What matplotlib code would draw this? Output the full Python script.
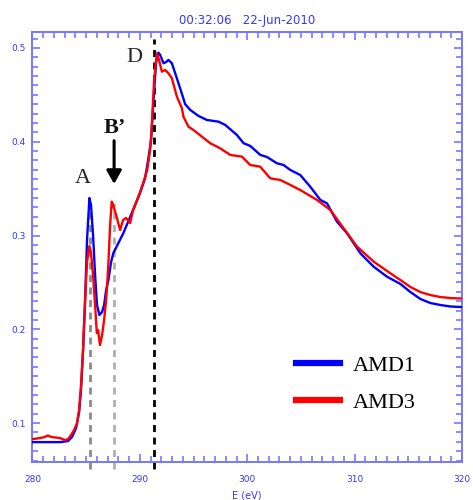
import numpy as np
import matplotlib
matplotlib.use("Agg")
import matplotlib.pyplot as plt
from matplotlib.ticker import MultipleLocator

# energie (eV) et intensites
e_amd1 = [280.0, 282.56, 283.31, 283.68, 284.06, 284.34, 284.52, 284.71, 284.90, 285.08,
          285.30, 285.45, 285.64, 285.83, 286.01, 286.23, 286.48, 286.67, 286.86, 287.07,
          287.32, 287.53, 288.00, 288.47, 289.09, 289.56, 290.02, 290.49, 290.77, 291.05,
          291.33, 291.52, 291.73, 291.89, 292.20, 292.45, 292.66, 292.98, 293.29, 293.75,
          294.22, 294.69, 295.46, 296.24, 297.32, 297.95, 299.04, 299.66, 300.28, 301.21,
          301.84, 302.77, 303.38, 304.01, 304.94, 305.87, 306.81, 307.43, 308.36, 309.30,
          310.54, 311.78, 313.03, 314.27, 315.20, 316.13, 317.06, 317.99, 318.93, 320.0]
i_amd1 = [0.0797, 0.0797, 0.0808, 0.0851, 0.0947, 0.1117, 0.1352, 0.1779, 0.2312, 0.2952,
          0.340, 0.3325, 0.3005, 0.2579, 0.2259, 0.2152, 0.2184, 0.2259, 0.2419, 0.2525,
          0.2717, 0.2813, 0.292, 0.3027, 0.3197, 0.3325, 0.3453, 0.3613, 0.3805, 0.4019,
          0.4552, 0.4851, 0.495, 0.4925, 0.4837, 0.485, 0.4872, 0.4837, 0.473, 0.457,
          0.440, 0.4339, 0.4275, 0.4232, 0.4214, 0.4179, 0.4072, 0.3984, 0.3955, 0.386,
          0.3837, 0.377, 0.3752, 0.3699, 0.3645, 0.352, 0.3379, 0.3343, 0.3147, 0.3023,
          0.281, 0.2667, 0.256, 0.2483, 0.2397, 0.2323, 0.228, 0.2259, 0.2243, 0.2237]

e_amd3 = [280.0, 280.66, 281.13, 281.41, 281.78, 282.56, 283.03, 283.31, 283.59, 283.87,
          284.15, 284.34, 284.52, 284.71, 284.90, 285.08, 285.30, 285.45, 285.64, 285.83,
          285.99, 286.11, 286.29, 286.48, 286.67, 286.86, 287.04, 287.23, 287.38, 287.51,
          287.79, 288.16, 288.44, 288.72, 289.09, 289.37, 289.74, 290.02, 290.40, 290.68,
          290.96, 291.14, 291.33, 291.58, 291.79, 292.05, 292.35, 292.66, 292.98, 293.45,
          293.91, 294.06, 294.53, 294.99, 295.78, 296.55, 297.48, 298.42, 299.51, 300.28,
          301.21, 302.14, 303.08, 303.70, 304.94, 306.50, 307.74, 308.98, 310.23, 311.78,
          313.33, 314.27, 315.20, 316.13, 317.06, 317.99, 318.93, 320.0]
i_amd3 = [0.0829, 0.084, 0.0851, 0.0867, 0.0851, 0.084, 0.0819, 0.0829, 0.0872, 0.0925,
          0.100, 0.1139, 0.1405, 0.1779, 0.2312, 0.2717, 0.2888, 0.2813, 0.2579, 0.2259,
          0.196, 0.1992, 0.1832, 0.1939, 0.2099, 0.2312, 0.2632, 0.3112, 0.3361, 0.3325,
          0.3219, 0.3059, 0.3165, 0.3187, 0.3133, 0.3272, 0.3379, 0.3464, 0.3592, 0.3699,
          0.3912, 0.4232, 0.4659, 0.4943, 0.4872, 0.4747, 0.4765, 0.473, 0.4677, 0.448,
          0.436, 0.4267, 0.416, 0.4125, 0.4054, 0.3984, 0.393, 0.3859, 0.3841, 0.3752,
          0.3734, 0.361, 0.3592, 0.3557, 0.3485, 0.3379, 0.3272, 0.3077, 0.2881, 0.2721,
          0.2597, 0.2525, 0.2451, 0.2397, 0.2365, 0.2344, 0.2333, 0.2328]

# pics marques (position, hauteur des pointilles, couleur)
pic_labels = ["A", "B\u2019", "D"]
pic_e = [285.4, 287.6, 291.3]
pic_top = [0.335, 0.335, 0.51]
pic_couleurs = ["#8a8a8a", "#b0b0b0", "#000000"]

axe_bleu = "#7777ff"
txt_bleu = "#3535ff"

fig = plt.figure(figsize=(4.73, 5.0), dpi=100)
ax = fig.add_axes([0.0687, 0.076, 0.908, 0.86])

ymin, ymax = 0.0585, 0.517
for e, top, c in zip(pic_e, pic_top, pic_couleurs):
    ax.plot([e, e], [ymin - 0.007, top], color=c, lw=2.0, dashes=(2.5, 2.0),
            clip_on=False, zorder=1)

ax.plot(e_amd1, i_amd1, color="#0000ff", lw=1.7, label="AMD1", zorder=3)
ax.plot(e_amd3, i_amd3, color="#ff0000", lw=1.7, label="AMD3", zorder=4)

ax.set_xlim(280, 320)
ax.set_ylim(ymin, ymax)

serif = "Liberation Serif"
ax.text(284.7, 0.361, "A", fontsize=16, family=serif, color="#222222",
        ha="center", va="center")
ax.text(287.7, 0.415, "B\u2019", fontsize=16, family=serif, fontweight="bold",
        color="#111111", ha="center", va="center")
ax.text(289.45, 0.49, "D", fontsize=16, family=serif, color="#222222",
        ha="center", va="center")
ax.annotate("", xy=(287.6, 0.352), xytext=(287.6, 0.404),
            arrowprops=dict(arrowstyle="-|>,head_width=0.45,head_length=0.8",
                            color="black", lw=2.2))

leg = ax.legend(loc="center", bbox_to_anchor=(0.752, 0.181), frameon=False,
                prop={"family": serif, "size": 16}, handlelength=2.0,
                handletextpad=0.55, labelspacing=0.75)
for line in leg.get_lines():
    line.set_linewidth(4.5)

# axes facon IDL
ax.xaxis.set_major_locator(MultipleLocator(10))
ax.xaxis.set_minor_locator(MultipleLocator(1))
ax.yaxis.set_major_locator(MultipleLocator(0.1))
ax.yaxis.set_minor_locator(MultipleLocator(0.01))
ax.tick_params(which="both", direction="in", top=True, right=True,
               color=axe_bleu, width=1.2, labelcolor=txt_bleu, labelsize=6.5)
ax.tick_params(which="major", length=6, pad=5)
ax.tick_params(which="minor", length=4)
ax.tick_params(axis="x", which="major", pad=9)
for s in ax.spines.values():
    s.set_color(axe_bleu)
    s.set_linewidth(1.4)
ax.xaxis.set_major_formatter(plt.FuncFormatter(lambda v, p: "%d" % v))
ax.yaxis.set_major_formatter(plt.FuncFormatter(lambda v, p: "%.1f" % v))

ax.set_title("00:32:06   22-Jun-2010", fontsize=8.5, color=txt_bleu, pad=6)
ax.set_xlabel("E (eV)", fontsize=7, color=txt_bleu, labelpad=5)

fig.savefig("out.png", dpi=100)
